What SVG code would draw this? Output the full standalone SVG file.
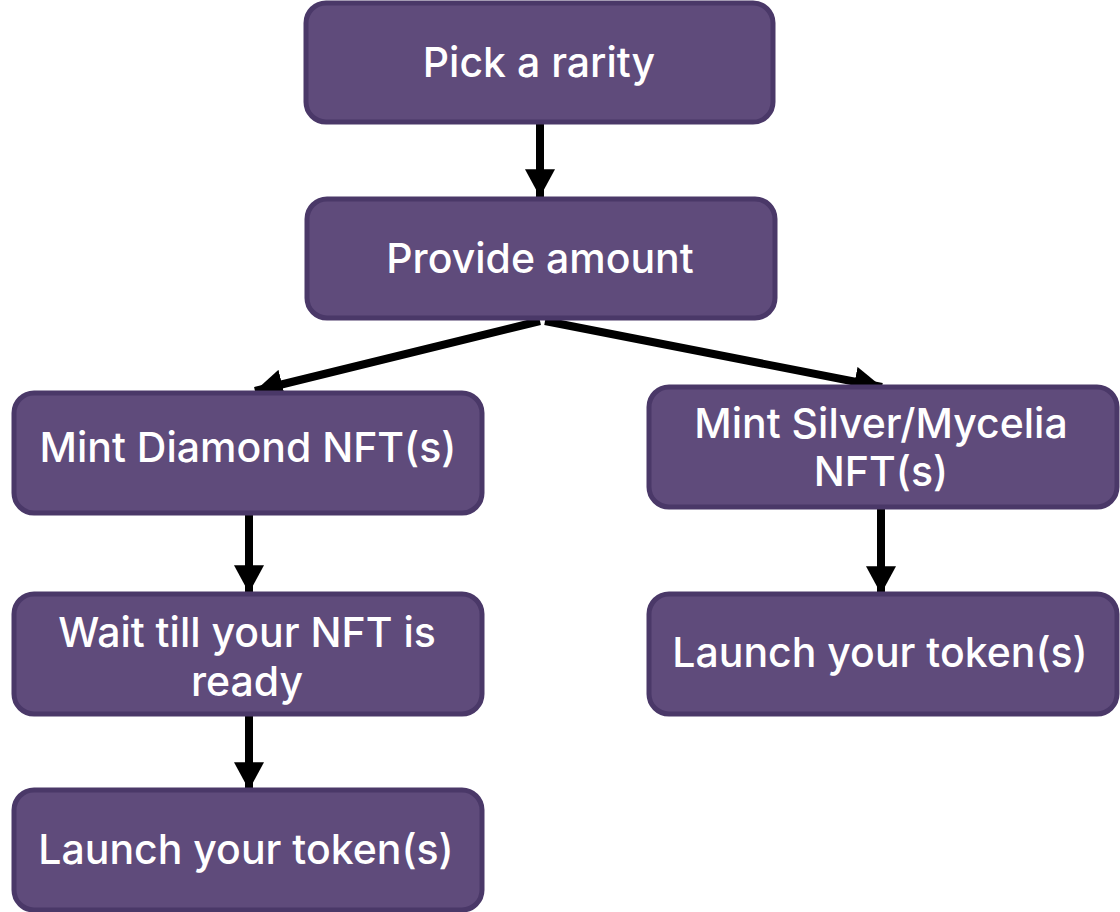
<svg xmlns="http://www.w3.org/2000/svg" width="1120" height="912" viewBox="0 0 1120 912">
<style>
.node rect{fill:#5f4b7b;stroke:#4a3868;stroke-width:5}
.node text{font-family:Inter,"Noto Sans",sans-serif;font-size:41px;font-weight:500;fill:#ffffff;text-anchor:middle;dominant-baseline:central}
.conn line{stroke:#000;stroke-width:8}
</style>
<defs>
<marker id="ah" markerUnits="userSpaceOnUse" markerWidth="30" markerHeight="30" refX="26" refY="14" orient="auto" viewBox="0 0 28 28">
<path d="M0,0 L26,14 L0,28 Z" fill="#000"/>
</marker>
</defs>
<g class="conn">
<line x1="540" y1="123" x2="540" y2="197" marker-end="url(#ah)"/>
<line x1="540" y1="321" x2="255" y2="391" marker-end="url(#ah)"/>
<line x1="545" y1="321" x2="882" y2="387" marker-end="url(#ah)"/>
<line x1="249" y1="513" x2="249" y2="593" marker-end="url(#ah)"/>
<line x1="249" y1="714" x2="249" y2="790" marker-end="url(#ah)"/>
<line x1="881" y1="508" x2="881" y2="594" marker-end="url(#ah)"/>
</g>
<g id="pick" class="node"><rect x="306" y="3" width="467" height="119" rx="20"/><text x="539" y="62">Pick a rarity</text></g>
<g id="provide" class="node"><rect x="307" y="199" width="468" height="119" rx="20"/><text x="540" y="258">Provide amount</text></g>
<g id="diamond" class="node"><rect x="14" y="393" width="468" height="120" rx="20"/><text x="248" y="447">Mint Diamond NFT(s)</text></g>
<g id="silver" class="node"><rect x="649" y="387" width="468" height="120" rx="20"/><text x="881" y="423">Mint Silver/Mycelia</text><text x="881" y="471">NFT(s)</text></g>
<g id="wait" class="node"><rect x="14" y="594" width="468" height="120" rx="20"/><text x="247" y="632">Wait till your NFT is</text><text x="247" y="681">ready</text></g>
<g id="launch1" class="node"><rect x="14" y="790" width="468" height="120" rx="20"/><text x="246" y="849">Launch your token(s)</text></g>
<g id="launch2" class="node"><rect x="649" y="594" width="468" height="120" rx="20"/><text x="880" y="652">Launch your token(s)</text></g>
</svg>
